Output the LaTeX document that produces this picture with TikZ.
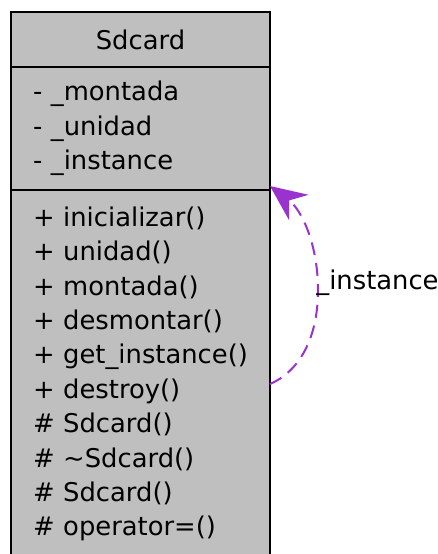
\documentclass[tikz,border=0pt]{standalone}
\usepackage{fontspec}
\setmainfont{DejaVu Sans}
\usetikzlibrary{arrows.meta,positioning}

\definecolor{classgray}{HTML}{BFBFBF}
\definecolor{linkpurple}{HTML}{9A32CD}

\begin{document}
\begin{tikzpicture}[x=0.5pt,y=-0.5pt]
\useasboundingbox (0,0) rectangle (438,554);

\begin{scope}[every node/.style={draw,line width=1pt,fill=classgray,outer sep=0pt,
                                 minimum width=129.5pt,text width=107.5pt,inner xsep=11pt,
                                 font=\fontsize{12.9}{17.2}\selectfont}]
    \node[align=center,minimum height=27.5pt] (title) at (140.5,39.5) {Sdcard};
    \node[align=left,minimum height=61.5pt,below=0pt of title] (attr)
        {-~\_montada\\-~\_unidad\\-~\_instance};
    \node[align=left,minimum height=184pt,below=0pt of attr] (meth)
        {+~inicializar()\\+~unidad()\\+~montada()\\+~desmontar()\\+~get\_instance()\\
         +~destroy()\\\#~Sdcard()\\\#~\char"007E Sdcard()\\\#~Sdcard()\\\#~operator=()};
\end{scope}

\coordinate (tail) at ([yshift=-97pt]meth.north east);
\coordinate (head) at ([yshift=2pt]meth.north east);

\begin{scope}[>={Stealth[length=18pt,width=16pt,inset=6pt]},
              every node/.style={font=\fontsize{12.9}{17.2}\selectfont}]
    \draw[->,linkpurple,line width=1pt,dash pattern=on 6.5pt off 4pt]
        (tail) .. controls (298,372) and (318,340) .. (318,290)
               .. controls (318,245) and (302,210) .. (head);
    \node[anchor=west,inner sep=0pt] (lbl) at (316,283) {\_instance};
\end{scope}
\end{tikzpicture}
\end{document}
